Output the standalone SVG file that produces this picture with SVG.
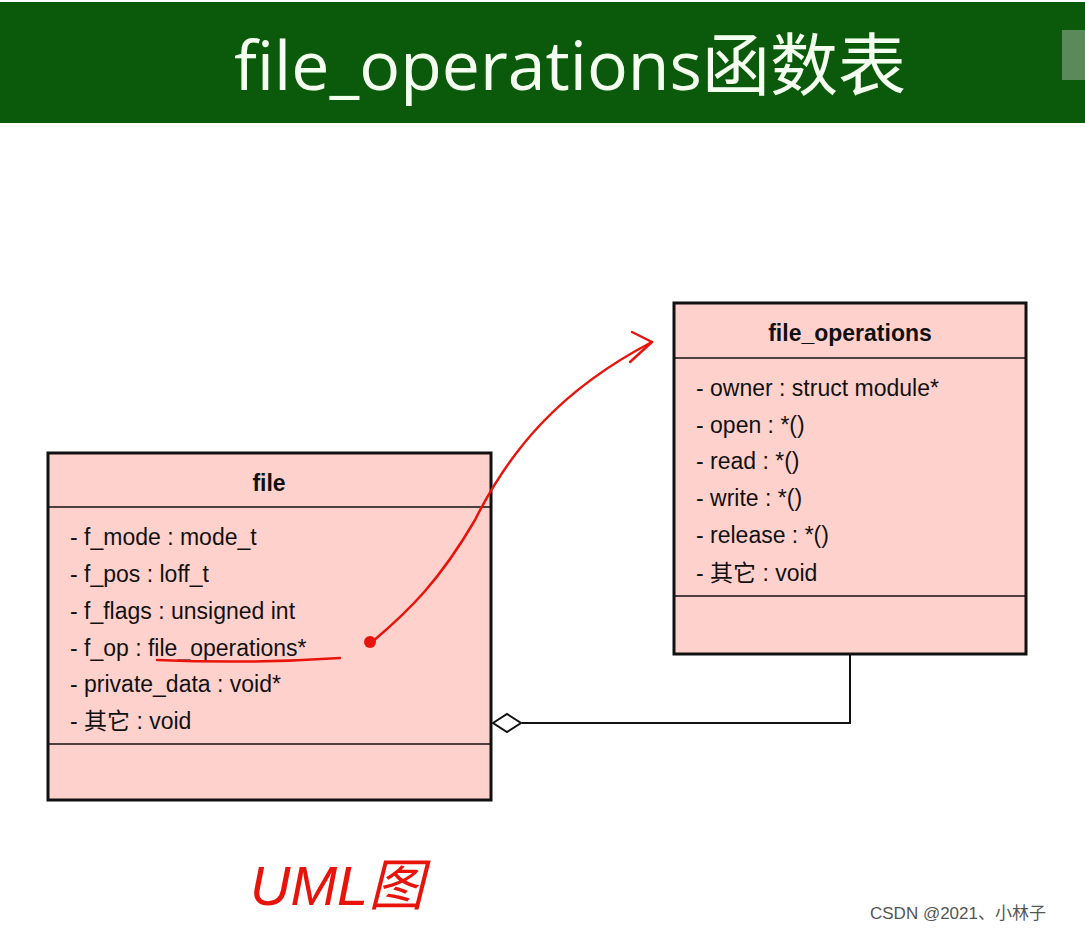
<svg xmlns="http://www.w3.org/2000/svg" width="1085" height="931" viewBox="0 0 1085 931">
<style>
.box{fill:#ffd1cc;stroke:#111;stroke-width:3}
.ln{stroke:#111;stroke-width:1.5}
.t{font-family:"Liberation Sans","Noto Sans CJK SC",sans-serif;font-size:23px;fill:#111}
.h{font-weight:bold;text-anchor:middle}
.red{fill:none;stroke:#e8140c;stroke-width:2.5;stroke-linecap:round;stroke-linejoin:round}
</style>
<rect width="1085" height="931" fill="#fff"/>
<rect x="0" y="2" width="1085" height="121" fill="#0b5a0b"/>
<text x="570" y="90" text-anchor="middle" font-family="'Open Sans','Noto Sans CJK SC',sans-serif" font-size="68" fill="#f4fff0">file_operations函数表</text>
<rect x="1062" y="30" width="23" height="50" fill="#5a8a5a"/>
<g id="file">
<rect class="box" x="48" y="453" width="443" height="347"/>
<line class="ln" x1="48" y1="507" x2="491" y2="507"/>
<line class="ln" x1="48" y1="744" x2="491" y2="744"/>
<text class="t h" x="269" y="491">file</text>
<text class="t" x="70" y="545">- f_mode : mode_t</text>
<text class="t" x="70" y="582">- f_pos : loff_t</text>
<text class="t" x="70" y="619">- f_flags : unsigned int</text>
<text class="t" x="70" y="656">- f_op : file_operations*</text>
<text class="t" x="70" y="692">- private_data : void*</text>
<text class="t" x="70" y="729">- 其它 : void</text>
</g>
<g id="file_operations">
<rect class="box" x="674" y="303" width="352" height="351"/>
<line class="ln" x1="674" y1="358" x2="1026" y2="358"/>
<line class="ln" x1="674" y1="596" x2="1026" y2="596"/>
<text class="t h" x="850" y="341">file_operations</text>
<text class="t" x="696" y="396">- owner : struct module*</text>
<text class="t" x="696" y="433">- open : *()</text>
<text class="t" x="696" y="469">- read : *()</text>
<text class="t" x="696" y="506">- write : *()</text>
<text class="t" x="696" y="543">- release : *()</text>
<text class="t" x="696" y="581">- 其它 : void</text>
</g>
<g id="connectors">
<polyline points="850,654 850,723 522,723" fill="none" stroke="#111" stroke-width="2"/>
<polygon points="493,723 507,714 521,723 507,732" fill="#fff" stroke="#111" stroke-width="2"/>
</g>
<g id="annotations">
<path class="red" d="M157,660 Q250,664 340,658"/>
<circle cx="370" cy="642" r="6" fill="#e8140c"/>
<path class="red" d="M372,642 C410,610 440,580 475,520 C510,450 560,390 652,342"/>
<path class="red" d="M632,332 L652,342 L630,362"/>
<text x="250" y="905" font-family="'Liberation Sans','Noto Sans CJK SC',sans-serif" font-size="56" fill="#e8140c" font-style="italic">UML图</text>
</g>
<text x="870" y="919" font-family="'Liberation Sans','Noto Sans CJK SC',sans-serif" font-size="17" fill="#555">CSDN @2021、小林子</text>
</svg>
